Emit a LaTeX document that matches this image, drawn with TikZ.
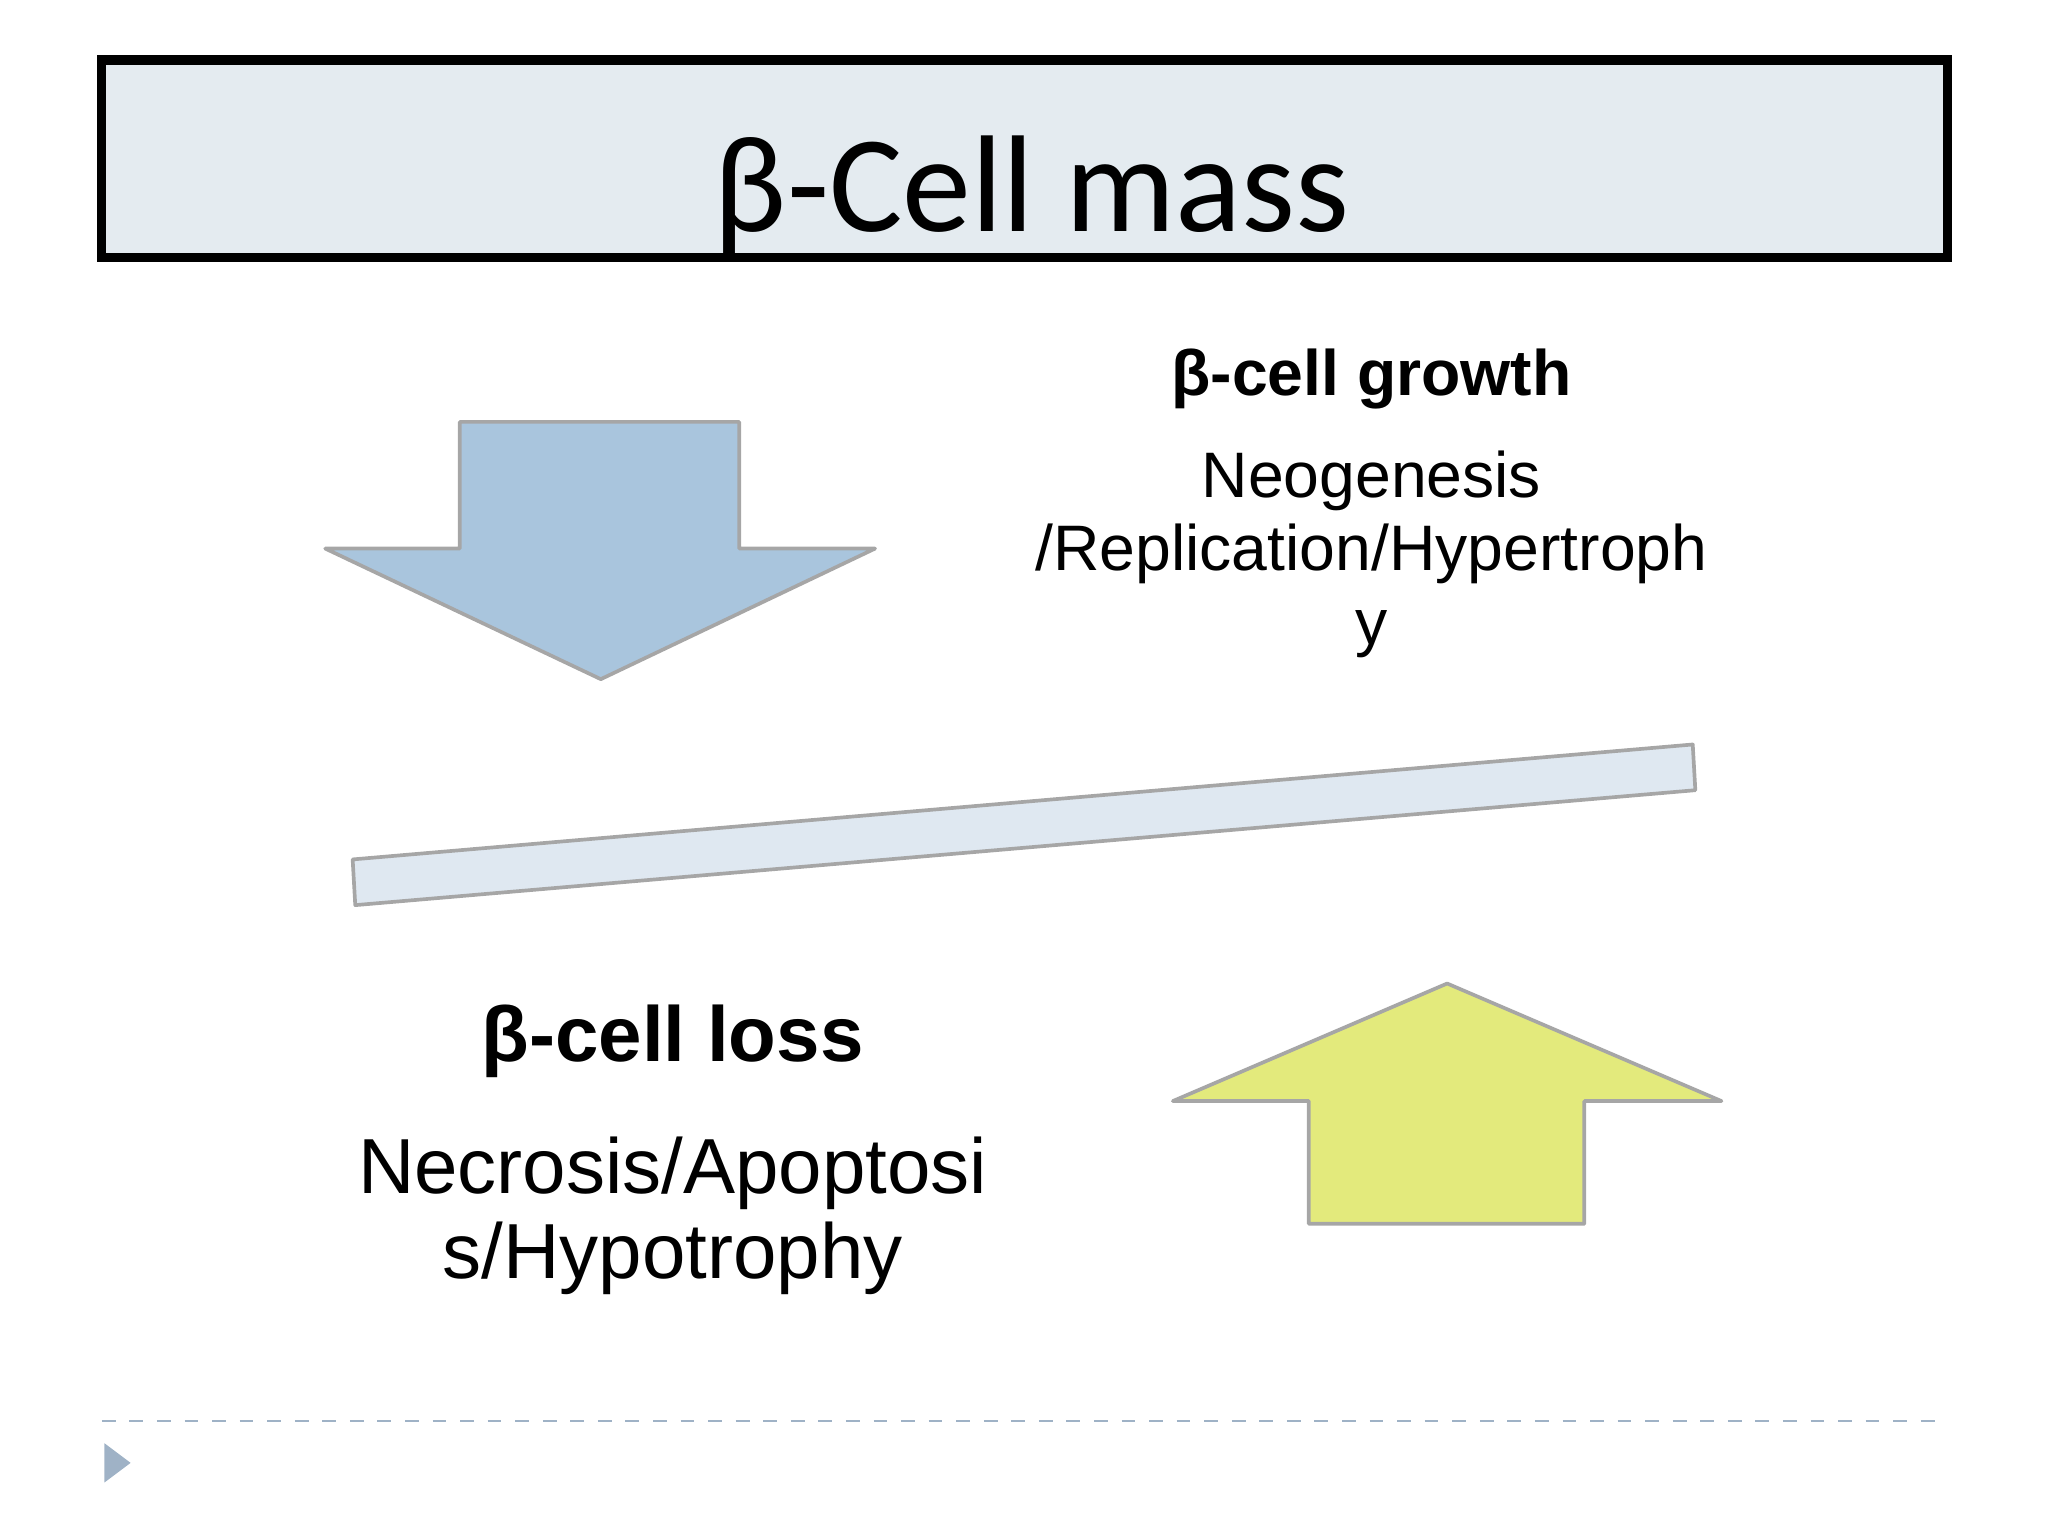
\documentclass[tikz,border=0pt]{standalone}
\usepackage{fontspec}
\setmainfont{Liberation Sans}
\newfontfamily\titlefont{Carlito}
\usetikzlibrary{positioning}
\definecolor{titlefill}{HTML}{E4EBF0}
\definecolor{downblue}{HTML}{A9C5DD}
\definecolor{upyellow}{HTML}{E3EA7C}
\definecolor{barfill}{HTML}{DFE8F1}
\definecolor{rulegrey}{HTML}{9FB2C6}
\tikzset{
  block/.style={draw=gray!70, line width=0.8pt, line join=round},
  label/.style={align=center, font=\fontsize{14pt}{16pt}\selectfont},
  big/.style={align=center, font=\fontsize{17pt}{18.5pt}\selectfont}
}
\begin{document}
\begin{tikzpicture}[x=0.01cm, y=-0.01cm]
\useasboundingbox (0,0) rectangle (1568,1176);
% title
\draw[line width=2pt, fill=titlefill] (78,46) rectangle (1491,197);
\node (title) at (790,150) {\titlefont\fontsize{30pt}{32pt}\selectfont β-Cell mass};
% down arrow
\draw[block, fill=downblue] (352,323) -- (566,323) -- (566,420) -- (670,420)
  -- (460,520) -- (249,420) -- (352,420) -- cycle;
% balance bar
\draw[block, fill=barfill] (270,658) -- (1296,570) -- (1298,605) -- (272,693) -- cycle;
% up arrow
\draw[block, fill=upyellow] (1002,937) -- (1213,937) -- (1213,843) -- (1318,843)
  -- (1108,753) -- (898,843) -- (1002,843) -- cycle;
% texts
\node[label] (growth) at (1050,290) {\textbf{β-cell growth}};
\node[label, below=2pt of growth] (growthtxt) {Neogenesis\\/Replication/Hypertroph\\y};
\node[big] (loss) at (515,797) {\textbf{β-cell loss}};
\node[big, below=6pt of loss] (losstxt) {Necrosis/Apoptosi\\s/Hypotrophy};
% footer
\draw[rulegrey, dashed, line width=0.5pt] (78,1088) -- (1488,1088);
\fill[rulegrey] (80,1105) -- (100,1120) -- (80,1135) -- cycle;
\end{tikzpicture}
\end{document}
